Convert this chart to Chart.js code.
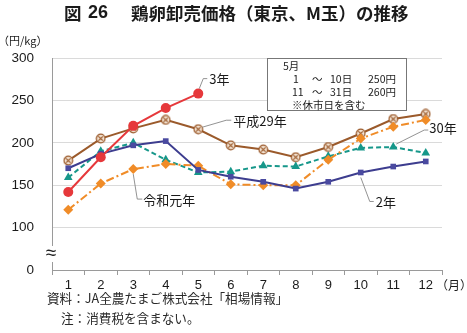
<!DOCTYPE html>
<html lang="ja">
<head>
<meta charset="utf-8">
<script src="https://cdn.jsdelivr.net/npm/chart.js@4/dist/chart.umd.min.js"></script>
<style>
  html, body { margin: 0; padding: 0; background: #fff; }
  #wrap { position: relative; width: 467px; height: 333px; }
  canvas { display: block; }
</style>
</head>
<body>
<div id="wrap"><canvas id="c" width="467" height="333"></canvas></div>
<script>
// 月 (x軸カテゴリ)
const months = ['1','2','3','4','5','6','7','8','9','10','11','12'];

// 鶏卵卸売価格（円/kg）
const r3   = [142, 183, 220, 241, 258];                                   // 3年
const h29  = [179, 205, 217, 227, 216, 197, 192, 183, 195, 211, 228, 234]; // 平成29年
const h30  = [159, 190, 200, 180, 165, 166, 173, 172, 184, 194, 195, 188]; // 30年
const r1   = [121, 152, 169, 175, 173, 151, 150, 150, 180, 205, 219, 227]; // 令和元年
const r2   = [170, 187, 197, 202, 168, 160, 154, 146, 154, 165, 172, 178]; // 2年

// y軸目盛（50 の位置を省略記号付きの 0 として表示）
const yTickValues = [50, 100, 150, 200, 250, 300];
const yTickLabels = ['0', '100', '150', '200', '250', '300'];

const JP = '"Noto Sans CJK JP", "Noto Sans", sans-serif';
const NUM = '"Liberation Sans", Arial, "Noto Sans CJK JP", sans-serif';

// 平成29年の丸にバツ印マーカー
function crossCircle() {
  const c = document.createElement('canvas');
  c.width = c.height = 11;
  const g = c.getContext('2d');
  g.beginPath();
  g.arc(5.5, 5.5, 4.3, 0, Math.PI * 2);
  g.fillStyle = '#f3e4d4';
  g.fill();
  g.lineWidth = 1.2;
  g.strokeStyle = '#9b5a2b';
  g.stroke();
  g.beginPath();
  g.moveTo(3.3, 3.3); g.lineTo(7.7, 7.7);
  g.moveTo(7.7, 3.3); g.lineTo(3.3, 7.7);
  g.stroke();
  return c;
}

// 注記・タイトル・系列ラベル
const decor = {
  id: 'decor',
  afterDraw(chart) {
    const ctx = chart.ctx;
    const x = chart.scales.x;
    const pt = (ds, i) => chart.getDatasetMeta(ds).data[i];
    ctx.save();

    // タイトル
    ctx.fillStyle = '#1a1a1a';
    ctx.textBaseline = 'middle';
    ctx.textAlign = 'left';
    ctx.font = 'bold 17.5px ' + JP;
    ctx.fillText('図', 64, 13);
    ctx.font = 'bold 18px ' + NUM;
    ctx.fillText('26', 88, 13);
    ctx.font = 'bold 17.5px ' + JP;
    ctx.fillText('鶏卵卸売価格（東京、M玉）の推移', 131, 13);

    // 単位
    ctx.font = '11px ' + JP;
    ctx.fillText('（円/kg）', -2, 41);

    // (月)
    ctx.font = '12px ' + JP;
    ctx.fillText('（月）', 436, 285);

    // 軸の省略記号
    ctx.fillStyle = '#fff';
    ctx.fillRect(x.left - 6, 246, 12, 16);
    ctx.fillStyle = '#222';
    ctx.textAlign = 'center';
    ctx.font = '19px ' + NUM;
    ctx.fillText('≈', x.left - 1, 254);

    // 5月の注記ボックス
    ctx.fillStyle = '#fff';
    ctx.fillRect(267, 58, 139, 52);
    ctx.strokeStyle = '#777';
    ctx.lineWidth = 1;
    ctx.strokeRect(267.5, 58.5, 139, 52);
    ctx.fillStyle = '#222';
    ctx.textAlign = 'left';
    ctx.font = '10.5px ' + JP;
    ctx.fillText('5月', 283, 66);
    ctx.fillText('1', 293, 79);
    ctx.fillText('～', 312, 79);
    ctx.fillText('10日', 330, 79);
    ctx.fillText('250円', 368, 79);
    ctx.fillText('11', 292, 92);
    ctx.fillText('～', 312, 92);
    ctx.fillText('31日', 330, 92);
    ctx.fillText('260円', 368, 92);
    ctx.fillText('※休市日を含む', 292, 105);

    // 系列ラベルと引出線
    ctx.strokeStyle = '#777';
    ctx.lineWidth = 0.8;
    const leader = (p, pts) => {
      ctx.beginPath();
      ctx.moveTo(p.x + pts[0][0], p.y + pts[0][1]);
      for (let k = 1; k < pts.length; k++) ctx.lineTo(p.x + pts[k][0], p.y + pts[k][1]);
      ctx.stroke();
    };
    ctx.fillStyle = '#1a1a1a';
    ctx.font = '13px ' + JP;

    let p = pt(0, 4); // 3年 5月
    leader(p, [[1, -5], [5, -15], [9, -15]]);
    ctx.fillText('3年', p.x + 11, p.y - 15);

    p = pt(4, 4); // 平成29年 5月
    leader(p, [[4, -2], [28, -9], [33, -9]]);
    ctx.fillText('平成29年', p.x + 35, p.y - 8);

    p = pt(3, 10); // 30年 11月
    leader(p, [[3, -3], [31, -17], [35, -17]]);
    ctx.fillText('30年', p.x + 36, p.y - 19);

    p = pt(2, 2); // 令和元年 3月
    leader(p, [[0, 5], [4, 30], [9, 30]]);
    ctx.fillText('令和元年', p.x + 10, p.y + 31);

    p = pt(1, 9); // 2年 10月
    leader(p, [[0, 5], [9, 29], [13, 29]]);
    ctx.fillText('2年', p.x + 15, p.y + 30);

    // 出典・注
    ctx.fillStyle = '#2a2a2a';
    ctx.font = '12.6px ' + JP;
    ctx.fillText('資料：JA全農たまご株式会社「相場情報」', 47, 298);
    ctx.fillText('注：消費税を含まない。', 61, 318);

    ctx.restore();
  }
};

new Chart(document.getElementById('c'), {
  type: 'line',
  data: {
    labels: months,
    datasets: [
      { label: '3年', data: r3, borderColor: '#e6383b', backgroundColor: '#e6383b',
        borderWidth: 2, pointStyle: 'circle', pointRadius: 5, pointBorderWidth: 0, order: 0 },
      { label: '2年', data: r2, borderColor: '#3d3d8f', backgroundColor: '#4a4aa0',
        borderWidth: 2, pointStyle: 'rect', pointRadius: 4, pointBorderWidth: 0, order: 1 },
      { label: '令和元年', data: r1, borderColor: '#f08c28', backgroundColor: '#f08c28',
        borderWidth: 2, borderDash: [8, 3, 2, 3], pointStyle: 'rectRot', pointRadius: 5, pointBorderWidth: 0, order: 2 },
      { label: '30年', data: h30, borderColor: '#16978a', backgroundColor: '#16978a',
        borderWidth: 2, borderDash: [5, 3], pointStyle: 'triangle', pointRadius: 5, pointBorderWidth: 0, order: 3 },
      { label: '平成29年', data: h29, borderColor: '#9b5a2b', backgroundColor: '#9b5a2b',
        borderWidth: 2, pointStyle: crossCircle(), pointRadius: 5, order: 4 }
    ]
  },
  options: {
    responsive: false,
    animation: false,
    devicePixelRatio: 1,
    layout: { padding: { left: 0, right: 25, top: 58, bottom: 0 } },
    plugins: { legend: { display: false }, tooltip: { enabled: false }, title: { display: false } },
    scales: {
      x: {
        type: 'category',
        offset: true,
        grid: { offset: true, drawOnChartArea: false, drawTicks: true, tickLength: 5, color: '#9a9a9a' },
        border: { color: '#9a9a9a', width: 1 },
        ticks: { color: '#1a1a1a', font: { family: NUM, size: 13 }, padding: 3, maxRotation: 0, autoSkip: false },
        afterFit(s) { s.height = 63; }
      },
      y: {
        min: 50, max: 300,
        afterBuildTicks(s) { s.ticks = yTickValues.map(v => ({ value: v })); },
        grid: {
          drawTicks: false,
          color: ctx => (ctx.tick && ctx.tick.value === 50) ? 'rgba(0,0,0,0)' : '#dadada'
        },
        border: { color: '#9a9a9a', width: 1 },
        ticks: {
          color: '#1a1a1a', font: { family: NUM, size: 13.5 }, padding: 18,
          callback: v => yTickLabels[yTickValues.indexOf(v)]
        },
        afterFit(s) { s.width = 52; }
      }
    }
  },
  plugins: [decor]
});
</script>
</body>
</html>
